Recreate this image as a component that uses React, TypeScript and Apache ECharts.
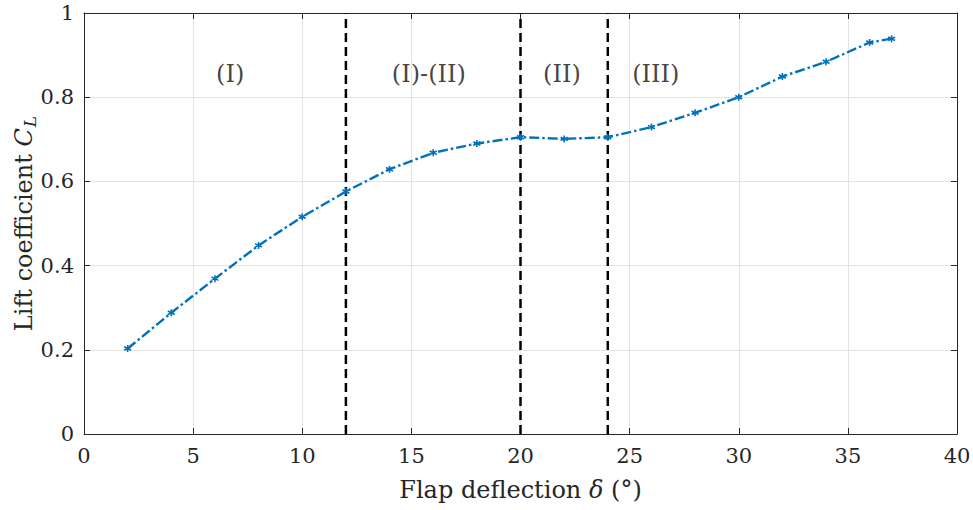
import React, { useEffect, useRef } from "react";
import * as echarts from "echarts";

const deflection = [2, 4, 6, 8, 10, 12, 14, 16, 18, 20, 22, 24, 26, 28, 30, 32, 34, 36, 37];
const liftCoeff = [0.203, 0.288, 0.369, 0.448, 0.516, 0.576, 0.629, 0.668, 0.690, 0.705, 0.701, 0.705, 0.729, 0.763, 0.800, 0.849, 0.884, 0.930, 0.939];
const regimeBoundaries = [12, 20, 24];
const regimeLabels = ["(I)", "(I)-(II)", "(II)", "(III)"];
const regimeLabelX = [6.7, 15.8, 21.9, 26.2];
const regimeLabelY = 0.854;

const FONT = "DejaVu Serif";
const TXT = "#262626";
const AX = "#262626";
const BLUE = "#0072BD";

export default function App() {
  const ref = useRef<HTMLDivElement>(null);
  useEffect(() => {
    if (!ref.current) return;
    const chart = echarts.init(ref.current, undefined, { renderer: "svg" });
    const axisCommon = {
      axisLine: { show: true, onZero: false, lineStyle: { color: AX, width: 1 } },
      axisTick: { show: true, inside: true, length: 6, lineStyle: { color: AX, width: 1 } },
    };
    const boundarySeries = regimeBoundaries.map((b) => ({
      type: "line",
      data: [[b, 0], [b, 1]],
      symbol: "none",
      silent: true,
      lineStyle: { color: "#000", width: 2.5, type: [9, 5] },
      z: 3,
    }));
    chart.setOption({
      animation: false,
      grid: { left: 84, right: 16, top: 13, bottom: 76, containLabel: false, outerBoundsMode: "none" },
      xAxis: [
        {
          type: "value",
          min: 0,
          max: 40,
          interval: 5,
          position: "bottom",
          ...axisCommon,
          splitLine: { show: true, lineStyle: { color: "#e3e3e3", width: 1 } },
          axisLabel: { color: TXT, fontFamily: FONT, fontSize: 21, margin: 11 },
          name: "{n|Flap deflection }{i|δ}{n| (°)}",
          nameLocation: "middle",
          nameGap: 44,
          nameMoveOverlap: false,
          nameTextStyle: {
            rich: {
              n: { fontFamily: FONT, fontSize: 24, color: TXT },
              i: { fontFamily: FONT, fontSize: 24, color: TXT, fontStyle: "italic" },
            },
          },
        },
        {
          type: "value",
          min: 0,
          max: 40,
          interval: 5,
          position: "top",
          ...axisCommon,
          splitLine: { show: false },
          axisLabel: { show: false },
        },
      ],
      yAxis: [
        {
          type: "value",
          min: 0,
          max: 1,
          interval: 0.2,
          position: "left",
          ...axisCommon,
          splitLine: { show: true, lineStyle: { color: "#e3e3e3", width: 1 } },
          axisLabel: { color: TXT, fontFamily: FONT, fontSize: 21, margin: 10 },
          name: "{n|Lift coefficient }{i|C}{s|L}",
          nameLocation: "middle",
          nameRotate: 90,
          nameGap: 46,
          nameMoveOverlap: false,
          nameTextStyle: {
            rich: {
              n: { fontFamily: FONT, fontSize: 24, color: TXT },
              i: { fontFamily: FONT, fontSize: 24, color: TXT, fontStyle: "italic" },
              s: { fontFamily: FONT, fontSize: 17, color: TXT, fontStyle: "italic", padding: [12, 0, 0, 1] },
            },
          },
        },
        {
          type: "value",
          min: 0,
          max: 1,
          interval: 0.2,
          position: "right",
          ...axisCommon,
          splitLine: { show: false },
          axisLabel: { show: false },
        },
      ],
      series: [
        ...boundarySeries,
        {
          type: "line",
          data: deflection.map((d, i) => [d, liftCoeff[i]]),
          lineStyle: { color: BLUE, width: 2.4, type: [10, 3, 2.5, 3] },
          symbol: "path://M0,-1L0,1M-0.87,-0.5L0.87,0.5M-0.87,0.5L0.87,-0.5",
          symbolSize: 7,
          itemStyle: { color: BLUE, borderColor: BLUE, borderWidth: 1.6 },
          z: 4,
        },
        {
          type: "scatter",
          data: regimeLabels.map((t, i) => ({ value: [regimeLabelX[i], regimeLabelY], name: t })),
          symbolSize: 0,
          silent: true,
          label: {
            show: true,
            position: "inside",
            formatter: (p: any) => p.name,
            fontFamily: FONT,
            fontSize: 24,
            color: "#111",
          },
          z: 5,
        },
      ],
    });
    return () => chart.dispose();
  }, []);
  return <div ref={ref} style={{ width: 973, height: 510, position: "absolute", left: 0, top: 0 }} />;
}
